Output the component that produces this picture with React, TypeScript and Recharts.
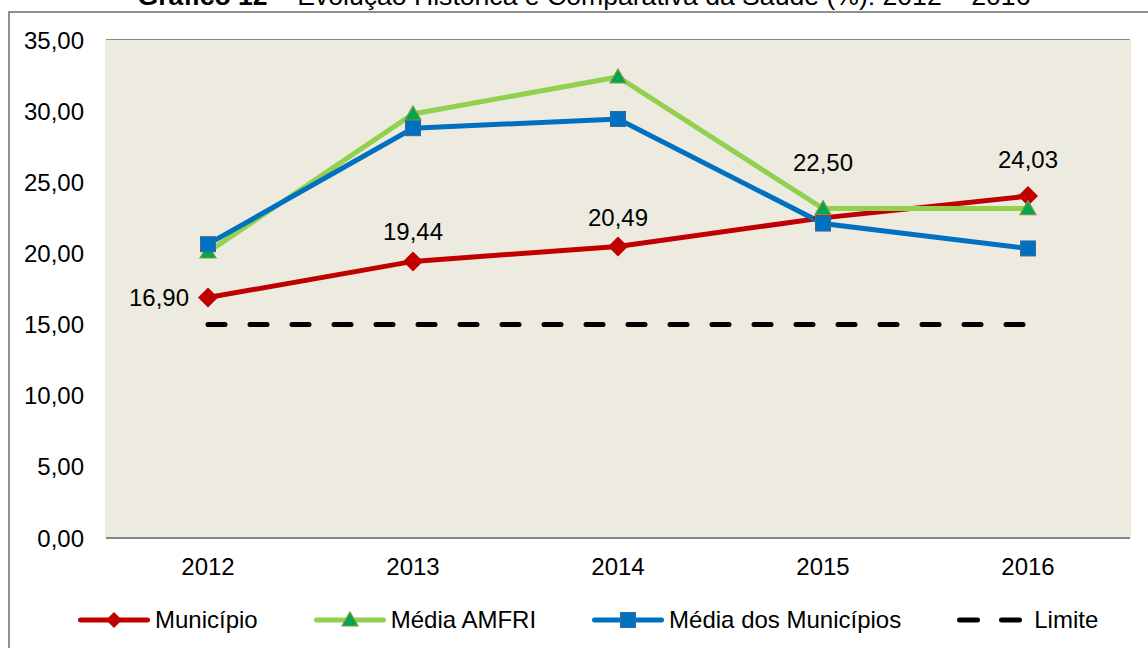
import { LineChart, Line, XAxis, YAxis, CartesianGrid, LabelList, ReferenceArea } from "recharts";

const years = ["2012", "2013", "2014", "2015", "2016"];
const municipio = [16.9, 19.44, 20.49, 22.5, 24.03];
const mediaAmfri = [20.1, 29.8, 32.4, 23.15, 23.15];
const mediaMunicipios = [20.65, 28.8, 29.45, 22.1, 20.35];
const limite = [15, 15, 15, 15, 15];
const yTicks = [0, 5, 10, 15, 20, 25, 30, 35];

const data = years.map((year, i) => ({
  year,
  municipio: municipio[i],
  mediaAmfri: mediaAmfri[i],
  mediaMunicipios: mediaMunicipios[i],
  limite: limite[i],
}));

const FONT = "Arial, 'Liberation Sans', sans-serif";
const RED = "#C00000";
const GREEN = "#92D050";
const BLUE = "#0070C0";
const FS = 24;
const PAD = 102; // half a category on each side

const fmt = (v: number) => v.toFixed(2).replace(".", ",");

// how far above the point each label sits (first one goes to the left)
const labelLift = [0, 21, 20, 47, 28];

const Diamond = ({ cx, cy, r = 10 }: any) => (
  <polygon points={`${cx},${cy - r} ${cx + r},${cy} ${cx},${cy + r} ${cx - r},${cy}`} fill={RED} />
);

const Triangle = ({ cx, cy }: any) => (
  <polygon
    points={`${cx},${cy - 8} ${cx + 8},${cy + 6} ${cx - 8},${cy + 6}`}
    fill="#00A651"
    stroke="#7E9A3C"
    strokeWidth={1.2}
  />
);

const Square = ({ cx, cy }: any) => (
  <rect x={cx - 7.5} y={cy - 7.5} width={15} height={15} fill={BLUE} stroke="#3C6796" strokeWidth={1} />
);

// plot background, widened by the axis padding so it fills the whole plot area
const PlotBg = ({ x, y, width, height }: any) => (
  <rect
    x={x - PAD - 1}
    y={y}
    width={width + 2 * PAD + 2}
    height={height}
    fill="#EDEBE0"
    stroke="none"
    shapeRendering="crispEdges"
  />
);

const ValueLabel = (props: any) => {
  const { x, y, value } = props;
  const index = props.index ?? municipio.indexOf(value);
  if (index === 0) {
    return (
      <text x={x - 19} y={y} dy="0.36em" textAnchor="end" fontSize={FS} fill="#000" fontFamily={FONT}>
        {fmt(value)}
      </text>
    );
  }
  return (
    <text x={x} y={y - labelLift[index]} textAnchor="middle" fontSize={FS} fill="#000" fontFamily={FONT}>
      {fmt(value)}
    </text>
  );
};

const legendItems = [
  { name: "Município", color: RED, marker: "diamond" },
  { name: "Média AMFRI", color: GREEN, marker: "triangle" },
  { name: "Média dos Municípios", color: BLUE, marker: "square" },
  { name: "Limite", color: "#000", marker: "dash" },
];

const LegendSwatch = ({ color, marker }: any) => (
  <svg width={72} height={24} style={{ display: "block" }}>
    {marker === "dash" ? (
      <line x1={2.5} y1={12} x2={69.5} y2={12} stroke={color} strokeWidth={5} strokeDasharray="18 24" strokeLinecap="round" />
    ) : (
      <line x1={2.5} y1={12} x2={69.5} y2={12} stroke={color} strokeWidth={5} strokeLinecap="round" />
    )}
    {marker === "diamond" && <Diamond cx={36} cy={12} r={8} />}
    {marker === "triangle" && <Triangle cx={36} cy={12} />}
    {marker === "square" && <Square cx={36} cy={12} />}
  </svg>
);

export default function App() {
  return (
    <div
      style={{
        position: "absolute",
        left: 0,
        top: 0,
        width: 1148,
        height: 648,
        overflow: "hidden",
        background: "#fff",
        fontFamily: FONT,
      }}
    >
      <div
        style={{
          position: "absolute",
          left: 8,
          top: 11,
          width: 1160,
          height: 700,
          border: "2px solid #8f8f8f",
          boxSizing: "border-box",
        }}
      />
      <div
        style={{
          position: "absolute",
          left: 0,
          top: -17,
          width: 1168,
          textAlign: "center",
          fontSize: 26.6,
          lineHeight: "26px",
          color: "#000",
          whiteSpace: "nowrap",
        }}
      >
        <b>Gráfico 12</b> – Evolução Histórica e Comparativa da Saúde (%): 2012 – 2016
      </div>
      <div style={{ position: "absolute", left: 0, top: 0 }}>
        <LineChart width={1148} height={648} data={data} margin={{ top: 40, right: 18, left: 26, bottom: 80 }}>
          <ReferenceArea y1={0} y2={35} shape={<PlotBg />} />
          <CartesianGrid vertical={false} stroke="#8a8a8a" strokeWidth={2} />
          <XAxis
            dataKey="year"
            tickLine={false}
            axisLine={{ stroke: "#868686", strokeWidth: 2 }}
            tick={{ fontSize: FS, fill: "#000", fontFamily: FONT }}
            tickSize={0}
            tickMargin={20}
            padding={{ left: PAD, right: PAD }}
            height={30}
          />
          <YAxis
            width={80}
            domain={[0, 35]}
            ticks={yTicks}
            tickFormatter={fmt}
            tickLine={false}
            axisLine={false}
            tickSize={0}
            tickMargin={22}
            tick={{ fontSize: FS, fill: "#000", fontFamily: FONT }}
          />
          <Line
            dataKey="municipio"
            stroke={RED}
            strokeWidth={5}
            isAnimationActive={false}
            activeDot={false}
            dot={(p: any) => <Diamond key={`d${p.index}`} cx={p.cx} cy={p.cy} />}
          >
            <LabelList dataKey="municipio" content={<ValueLabel />} />
          </Line>
          <Line
            dataKey="mediaAmfri"
            stroke={GREEN}
            strokeWidth={5}
            isAnimationActive={false}
            activeDot={false}
            dot={(p: any) => <Triangle key={`t${p.index}`} cx={p.cx} cy={p.cy} />}
          />
          <Line
            dataKey="mediaMunicipios"
            stroke={BLUE}
            strokeWidth={5}
            isAnimationActive={false}
            activeDot={false}
            dot={(p: any) => <Square key={`s${p.index}`} cx={p.cx} cy={p.cy} />}
          />
          <Line
            dataKey="limite"
            stroke="#000"
            strokeWidth={5}
            strokeDasharray="17 25"
            strokeLinecap="round"
            isAnimationActive={false}
            activeDot={false}
            dot={false}
          />
        </LineChart>
      </div>
      <div
        style={{
          position: "absolute",
          left: 78,
          top: 606,
          display: "flex",
          alignItems: "center",
          gap: 56,
          fontSize: FS,
          color: "#000",
          whiteSpace: "nowrap",
        }}
      >
        {legendItems.map((it) => (
          <div key={it.name} style={{ display: "flex", alignItems: "center", gap: 5 }}>
            <LegendSwatch color={it.color} marker={it.marker} />
            <span>{it.name}</span>
          </div>
        ))}
      </div>
    </div>
  );
}
